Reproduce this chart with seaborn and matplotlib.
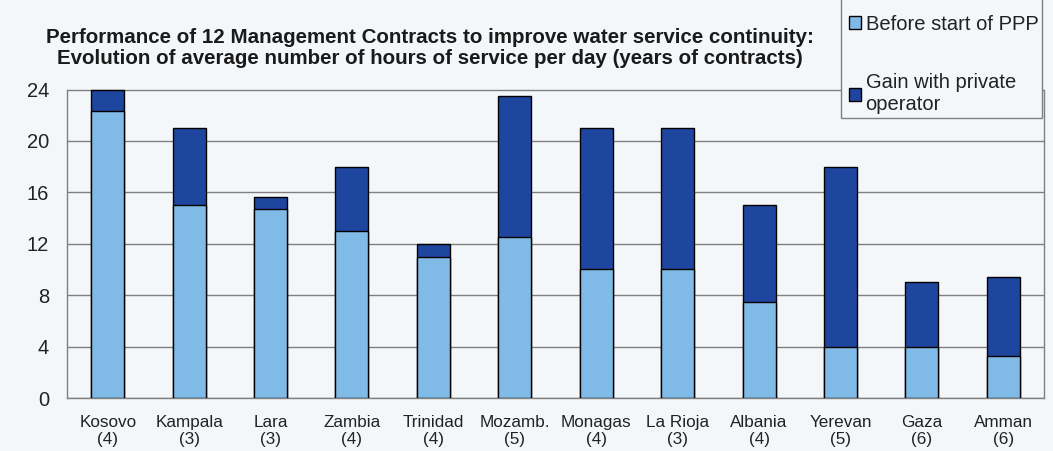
import matplotlib
matplotlib.use("Agg")
import matplotlib.pyplot as plt
from matplotlib.patches import Patch, Rectangle
import seaborn as sns
import pandas as pd

# Contract sites, with contract length in years shown beneath each name
cities = ["Kosovo", "Kampala", "Lara", "Zambia", "Trinidad", "Mozamb.",
          "Monagas", "La Rioja", "Albania", "Yerevan", "Gaza", "Amman"]
years = [4, 3, 3, 4, 4, 5, 4, 3, 4, 5, 6, 6]

# Average hours of service per day
hours_before = [22.3, 15.0, 14.7, 13.0, 11.0, 12.5, 10.0, 10.0, 7.5, 4.0, 4.0, 3.3]
hours_after = [24.0, 21.0, 15.6, 18.0, 12.0, 23.5, 21.0, 21.0, 15.0, 18.0, 9.0, 9.4]

y_ticks = [0, 4, 8, 12, 16, 20, 24]

labels = [f"{c}\n({y})" for c, y in zip(cities, years)]
df = pd.DataFrame({"site": labels, "before": hours_before, "after": hours_after})

light = "#80bae6"
dark = "#1f469e"
bg = "#f4f7fa"

sns.set_style("white")
plt.rcParams["font.family"] = ["Liberation Sans", "DejaVu Sans"]

fig = plt.figure(figsize=(10.53, 4.51), dpi=100, facecolor=bg)
ax = fig.add_axes([67 / 1053, 1 - 398 / 451, (1044 - 67) / 1053, (398 - 89.5) / 451])
ax.set_facecolor(bg)

# Total after the contract (the dark part shows the gain), then the starting level on top
sns.barplot(data=df, x="site", y="after", color=dark, saturation=1, width=0.405,
            edgecolor="black", linewidth=1.0, ax=ax, zorder=3)
sns.barplot(data=df, x="site", y="before", color=light, saturation=1, width=0.405,
            edgecolor="black", linewidth=1.0, ax=ax, zorder=4)

ax.set_ylim(0, 24)
ax.set_xlim(-0.5, len(cities) - 0.5)
ax.set_yticks(y_ticks)
ax.set_yticklabels([str(t) for t in y_ticks], fontsize=14.5, color="#222222")
ax.set_xticks(range(len(cities)))
ax.set_xticklabels(labels, fontsize=12.3, color="#222222", linespacing=1.2)
ax.set_xlabel("")
ax.set_ylabel("")

ax.set_xticks([i - 0.5 for i in range(len(cities) + 1)], minor=True)
ax.tick_params(axis="x", which="major", length=0, pad=12)
ax.tick_params(axis="x", which="minor", length=4, width=1, color="#808080", direction="out")
ax.tick_params(axis="y", which="major", length=4, width=1, color="#808080", direction="out", pad=9)

ax.yaxis.grid(True, color="#7f7f7f", linewidth=1.0, zorder=0)
ax.set_axisbelow(True)
for side, sp in ax.spines.items():
    sp.set_visible(side != "top")
    sp.set_color("#7f7f7f")
    sp.set_linewidth(1.0)

fig.text(430 / 1053, 1 - 48 / 451,
         "Performance of 12 Management Contracts to improve water service continuity:\n"
         "Evolution of average number of hours of service per day (years of contracts)",
         ha="center", va="center", fontsize=14.8, fontweight="bold", color="#1a1a1a",
         linespacing=1.12)

# Legend frame running off the top edge
fig.patches.append(Rectangle((841 / 1053, 1 - 118 / 451), (1042 - 841) / 1053, 118 / 451 + 0.05,
                             transform=fig.transFigure, facecolor=bg, edgecolor="#7f7f7f",
                             linewidth=1.0, zorder=5))
handles = [Patch(facecolor=light, edgecolor="black", linewidth=1.0),
           Patch(facecolor=dark, edgecolor="black", linewidth=1.0)]
leg = fig.legend(handles, ["Before start of PPP", "Gain with private\noperator"],
                 loc="upper left", bbox_to_anchor=(849 / 1053, 1 - 15 / 451),
                 frameon=False, fontsize=14.5, borderpad=0, borderaxespad=0,
                 handlelength=0.62, handleheight=0.62, handletextpad=0.2,
                 labelspacing=1.95)
leg.set_zorder(6)
for t in leg.get_texts():
    t.set_color("#222222")

fig.savefig("out.png", dpi=100, facecolor=bg)
